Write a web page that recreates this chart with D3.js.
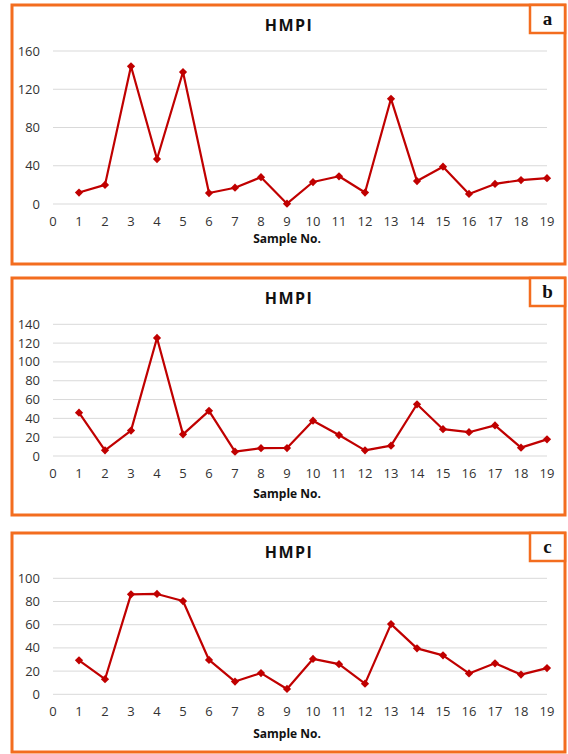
<!DOCTYPE html>
<html><head><meta charset="utf-8">
<script src="https://cdn.jsdelivr.net/npm/d3@7/dist/d3.min.js"></script>
<style>body{margin:0;background:#fff}svg{display:block}</style>
</head><body>
<svg id="c" width="568" height="754"></svg>
<script>
const samples = d3.range(1, 20);
const xTicks = d3.range(0, 20);
const valuesA = [12, 20, 144, 47, 138, 11.5, 17, 28, 0.3, 23, 29, 12, 110, 24, 39, 10.5, 21, 25, 27];
const valuesB = [46, 6, 27, 125.5, 23, 48, 4.6, 8.3, 8.5, 37.5, 22.3, 6, 11, 55, 28.5, 25.3, 32.5, 8.9, 17.7];
const valuesC = [29.3, 13, 86.2, 86.5, 80.4, 29.6, 11, 18.3, 4.6, 30.5, 26, 9.2, 60.5, 39.6, 33.6, 18, 26.7, 17, 22.6];
const yTicksA = [0, 40, 80, 120, 160];
const yTicksB = [0, 20, 40, 60, 80, 100, 120, 140];
const yTicksC = [0, 20, 40, 60, 80, 100];
const labels = ["a", "b", "c"];
const title = "HMPI";
const xTitle = "Sample No.";

const panels = [
  {vals: valuesA, ticks: yTicksA, label: labels[0], box: [12, 5, 565, 264], lbox: [530, 5, 565, 33], titleY: 31, plot: [51, 204], tickY: 226, xtY: 243},
  {vals: valuesB, ticks: yTicksB, label: labels[1], box: [12, 278, 565, 515], lbox: [530, 278, 565, 306], titleY: 304, plot: [324.3, 456], tickY: 478, xtY: 498},
  {vals: valuesC, ticks: yTicksC, label: labels[2], box: [12, 533, 565, 752], lbox: [530, 533, 565, 561], titleY: 558, plot: [578.3, 694.3], tickY: 716, xtY: 738}
];

const svg = d3.select("#c");
const orange = "#F36D1F";
const red = "#C00000";
const font = "'Open Sans', 'Liberation Sans', sans-serif";

panels.forEach(p => {
  const g = svg.append("g");
  const [x0, y0, x1, y1] = p.box;
  g.append("rect").attr("x", x0).attr("y", y0).attr("width", x1 - x0).attr("height", y1 - y0)
    .attr("fill", "#fff").attr("stroke", orange).attr("stroke-width", 3);
  const [lx0, ly0, lx1, ly1] = p.lbox;
  g.append("rect").attr("x", lx0).attr("y", ly0).attr("width", lx1 - lx0).attr("height", ly1 - ly0)
    .attr("fill", "#fff").attr("stroke", orange).attr("stroke-width", 2.5);
  g.append("text").attr("x", (lx0 + lx1) / 2).attr("y", ly1 - 8).attr("text-anchor", "middle")
    .attr("font-family", "'Liberation Serif', 'DejaVu Serif', serif").attr("font-weight", "bold")
    .attr("font-size", 19).attr("fill", "#111").text(p.label);

  g.append("text").attr("x", 289).attr("y", p.titleY).attr("text-anchor", "middle")
    .attr("font-family", font).attr("font-weight", "bold").attr("font-size", 16)
    .attr("letter-spacing", "1.5px").attr("fill", "#111").text(title);

  const x = d3.scaleLinear().domain([0, 19]).range([53, 547]);
  const y = d3.scaleLinear().domain([0, d3.max(p.ticks)]).range([p.plot[1], p.plot[0]]);

  g.selectAll(".grid").data(p.ticks).join("line")
    .attr("x1", x(0)).attr("x2", x(19)).attr("y1", d => y(d)).attr("y2", d => y(d))
    .attr("stroke", "#D9D9D9").attr("stroke-width", 1);

  g.selectAll(".yt").data(p.ticks).join("text")
    .attr("x", 40).attr("y", d => y(d)).attr("dy", "0.35em").attr("text-anchor", "end")
    .attr("font-family", font).attr("font-size", 13).attr("fill", "#333").text(d => d);

  g.selectAll(".xt").data(xTicks).join("text")
    .attr("x", d => x(d)).attr("y", p.tickY).attr("text-anchor", "middle")
    .attr("font-family", font).attr("font-size", 13).attr("fill", "#333").text(d => d);

  g.append("text").attr("x", 287).attr("y", p.xtY).attr("text-anchor", "middle")
    .attr("font-family", font).attr("font-weight", "bold").attr("font-size", 12)
    .attr("fill", "#111").text(xTitle);

  const data = samples.map((s, i) => [s, p.vals[i]]);
  g.append("path").datum(data)
    .attr("d", d3.line().x(d => x(d[0])).y(d => y(d[1])))
    .attr("fill", "none").attr("stroke", red).attr("stroke-width", 2.2).attr("stroke-linejoin", "round");
  const sym = d3.symbol().type(d3.symbolSquare).size(34);
  g.selectAll(".pt").data(data).join("path")
    .attr("transform", d => `translate(${x(d[0])},${y(d[1])}) rotate(45)`)
    .attr("d", sym).attr("fill", red);
});
</script>
</body></html>
